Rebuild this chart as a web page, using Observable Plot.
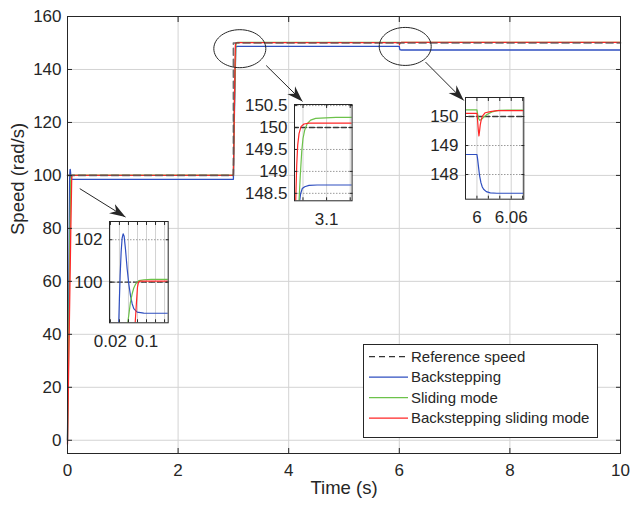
<!DOCTYPE html>
<html>
<head>
<meta charset="utf-8">
<script src="https://cdn.jsdelivr.net/npm/d3@7"></script>
<script src="https://cdn.jsdelivr.net/npm/@observablehq/plot@0.6"></script>
<style>
  body { margin: 0; background: #fff; }
  #chart { position: relative; width: 631px; height: 507px; overflow: hidden; }
  #chart > svg, #chart > div { position: absolute; }
</style>
</head>
<body>
<div id="chart"></div>
<script>
// ---- Speed responses (time in s, speed in rad/s) ----
const timeRef = [0, 3, 3, 10];
const speedRef = [100, 100, 150, 150];

const timeBS = [0, 0.015, 0.03, 0.0385, 0.04, 0.0416, 0.0438, 0.046, 0.0482, 0.0504,
  0.0533, 0.0571, 0.0607, 0.0644, 0.0682, 0.0718, 0.0793, 0.094, 0.12,
  3.0, 3.02, 3.043, 3.045, 3.0485, 3.0536, 3.0627, 3.08,
  6.0, 6.0012, 6.0029, 6.0047, 6.007, 6.0094, 6.0117, 6.0164, 6.0234, 6.035, 10];
const speedBS = [0, 38, 76, 98.08, 99.22, 100.32, 101.42, 102.08, 102.28, 102.17,
  101.58, 100.63, 99.92, 99.37, 98.98, 98.75, 98.58, 98.54, 98.53,
  98.53, 125, 148.33, 148.49, 148.61, 148.65, 148.68, 148.69,
  148.69, 148.53, 148.24, 147.95, 147.72, 147.57, 147.49, 147.41, 147.37, 147.355, 147.355];

const timeSM = [0, 0.02, 0.04, 0.0585, 0.0616, 0.0644, 0.0682, 0.0718, 0.0762, 0.0829,
  0.094, 0.11,
  3.0, 3.02, 3.0416, 3.0443, 3.0473, 3.05, 3.0536, 3.059, 3.0662, 3.0768, 3.098, 3.12,
  6.0, 6.0012, 6.0029, 6.0047, 6.007, 6.0117, 6.0175, 6.0263, 6.038, 6.053, 10];
const speedSM = [0, 35, 70, 98.08, 98.58, 99.06, 99.45, 99.72, 99.92, 100.07,
  100.11, 100.13,
  100.13, 128, 148.33, 148.91, 149.45, 149.75, 149.94, 150.09, 150.17, 150.21, 150.22, 150.23,
  150.23, 150.08, 149.93, 149.87, 149.89, 149.97, 150.07, 150.16, 150.21, 150.22, 150.22];

const timeBSM = [0, 0.03, 0.06, 0.0749, 0.0778, 0.08, 0.0822, 0.0867, 0.1,
  3.0, 3.02, 3.0346, 3.0367, 3.0388, 3.0416, 3.0458, 3.0521, 3.0627,
  6.0, 6.0012, 6.0023, 6.0035, 6.0047, 6.0058, 6.0076, 6.0099, 6.0146, 6.0234, 6.035, 10];
const speedBSM = [-1.5, 40, 80, 98.08, 99.06, 99.76, 100.0, 100.05, 100.05,
  100.05, 130, 148.33, 149.14, 149.6, 149.86, 150.02, 150.08, 150.1,
  150.11, 149.85, 149.56, 149.33, 149.51, 149.71, 149.89, 150.02, 150.13, 150.17, 150.2, 150.2];

const seriesNames = ["Reference speed", "Backstepping", "Sliding mode", "Backstepping sliding mode"];

// ---- Main axes ticks ----
const xTicksMain = [0, 2, 4, 6, 8, 10];
const yTicksMain = [0, 20, 40, 60, 80, 100, 120, 140, 160];

// ---- Zoomed views: domains, grid ticks and labelled ticks ----
const zoomXDomains = [[0.018, 0.148], [3.032, 3.154], [5.98, 6.082]];
const zoomYDomains = [[98.08, 102.86], [148.33, 150.525], [147.15, 150.655]];
const zoomXGrid = [[0.02, 0.04, 0.06, 0.08, 0.1, 0.12, 0.14], [3.05, 3.1, 3.15], [6, 6.02, 6.04, 6.06, 6.08]];
const zoomXLabels = [[0.02, 0.1], [3.1], [6, 6.06]];
const zoomYTicks = [[100, 102], [148.5, 149, 149.5, 150, 150.5], [148, 149, 150]];

// ---- Annotations (data coordinates) ----
const circleCenters = [[3.116, 147.85], [6.107, 148.7]];
const arrowStarts = [[0.222, 95.0], [3.593, 141.5], [6.474, 142.8]];
const arrowEnds = [[1.049, 84.25], [4.25, 127.95], [7.166, 128.3]];

// ---- Styling ----
const font = '"Liberation Sans", Arial, Helvetica, sans-serif';
const ink = "#262626";
const colors = { ref: "#555555", bs: "#2f4fc0", sm: "#6cc24a", bsm: "#ff2626" };

const rows = (t, v) => t.map((d, i) => ({ t: d, v: v[i] }));
const refRows = rows(timeRef, speedRef);
const bsRows = rows(timeBS, speedBS);
const smRows = rows(timeSM, speedSM);
const bsmRows = rows(timeBSM, speedBSM);

const chart = document.getElementById("chart");

// Filled MATLAB-style arrowhead marker
function arrowHead(color, context) {
  const ns = "http://www.w3.org/2000/svg";
  const m = context.document.createElementNS(ns, "marker");
  m.setAttribute("viewBox", "-16 -6 17 12");
  m.setAttribute("markerWidth", 17);
  m.setAttribute("markerHeight", 12);
  m.setAttribute("markerUnits", "userSpaceOnUse");
  m.setAttribute("orient", "auto");
  m.setAttribute("refX", 0);
  m.setAttribute("refY", 0);
  m.setAttribute("fill", color);
  m.setAttribute("stroke", "none");
  const p = context.document.createElementNS(ns, "path");
  p.setAttribute("d", "M0,0L-16,-5.5L-11,0L-16,5.5Z");
  m.appendChild(p);
  return m;
}

// Ellipse outline used to highlight a region
const ellipseSymbol = {
  draw(ctx) {
    const rx = 26, ry = 19, k = 0.5523;
    ctx.moveTo(rx, 0);
    ctx.bezierCurveTo(rx, ry * k, rx * k, ry, 0, ry);
    ctx.bezierCurveTo(-rx * k, ry, -rx, ry * k, -rx, 0);
    ctx.bezierCurveTo(-rx, -ry * k, -rx * k, -ry, 0, -ry);
    ctx.bezierCurveTo(rx * k, -ry, rx, -ry * k, rx, 0);
    ctx.closePath();
  }
};

const arrows = arrowStarts.map((s, i) => ({ x1: s[0], y1: s[1], x2: arrowEnds[i][0], y2: arrowEnds[i][1] }));
const circles = circleCenters.map(([x, y]) => ({ x, y }));

const main = Plot.plot({
  width: 631,
  height: 507,
  marginLeft: 67,
  marginRight: 11,
  marginTop: 16,
  marginBottom: 54,
  x: { domain: [0, 10] },
  y: { domain: [-5, 160] },
  style: { fontFamily: font, fontSize: "17px", color: ink, background: "transparent", overflow: "visible" },
  marks: [
    Plot.gridX(xTicksMain, { stroke: "#d3d3d3", strokeOpacity: 1 }),
    Plot.gridY(yTicksMain, { stroke: "#d3d3d3", strokeOpacity: 1 }),
    Plot.line(bsRows, { x: "t", y: "v", stroke: colors.bs, strokeWidth: 1.3 }),
    Plot.line(smRows, { x: "t", y: "v", stroke: colors.sm, strokeWidth: 1.3 }),
    Plot.line(bsmRows, { x: "t", y: "v", stroke: colors.bsm, strokeWidth: 1.3 }),
    Plot.line(refRows, { x: "t", y: "v", stroke: colors.ref, strokeWidth: 1.6, strokeDasharray: "7,4", strokeOpacity: 0.85 }),
    Plot.dot(circles, { x: "x", y: "y", symbol: ellipseSymbol, stroke: ink, fill: "none", strokeWidth: 1 }),
    Plot.link(arrows, { x1: "x1", y1: "y1", x2: "x2", y2: "y2", stroke: ink, strokeWidth: 1, markerEnd: arrowHead }),
    Plot.frame({ stroke: ink, strokeWidth: 1 }),
    Plot.axisX(xTicksMain, { anchor: "bottom", tickSize: -5, tickPadding: 15, label: null }),
    Plot.axisX(xTicksMain, { anchor: "top", tickSize: -5, tickFormat: () => "", label: null }),
    Plot.axisY(yTicksMain, { anchor: "left", tickSize: -5, tickPadding: 11, label: null }),
    Plot.axisY(yTicksMain, { anchor: "right", tickSize: -5, tickFormat: () => "", label: null }),
    Plot.text(["Time (s)"], { frameAnchor: "bottom", dy: 40, fontSize: 18.5, fill: ink }),
    Plot.text(["Speed (rad/s)"], { frameAnchor: "left", dx: -49, rotate: -90, fontSize: 18.5, fill: ink })
  ]
});
main.style.left = "0px";
main.style.top = "0px";
chart.appendChild(main);

// ---- Zoomed views drawn on top of the main axes ----
const zoomFrames = [
  { left: 109, top: 221, width: 58.7, height: 101.3 },
  { left: 293.7, top: 104, width: 57.6, height: 96.3 },
  { left: 465, top: 97, width: 58.3, height: 101.7 }
];
const ML = 60, MT = 4, MR = 4, MB = 34;

zoomFrames.forEach((f, i) => {
  const labels = new Set(zoomXLabels[i]);
  const p = Plot.plot({
    width: ML + f.width + MR,
    height: MT + f.height + MB,
    marginLeft: ML,
    marginTop: MT,
    marginRight: MR,
    marginBottom: MB,
    x: { domain: zoomXDomains[i] },
    y: { domain: zoomYDomains[i] },
    style: { fontFamily: font, fontSize: "17px", color: ink, background: "transparent", overflow: "visible" },
    marks: [
      Plot.frame({ fill: "white", stroke: "none" }),
      Plot.gridX(zoomXGrid[i], { stroke: "#d2d2d2", strokeOpacity: 1 }),
      Plot.gridY(zoomYTicks[i], { stroke: "#9a9a9a", strokeOpacity: 1, strokeDasharray: "1.5,1.5" }),
      Plot.line(refRows, { x: "t", y: "v", stroke: "#3a3a3a", strokeWidth: 1.4, strokeDasharray: "5,3", clip: true }),
      Plot.line(bsRows, { x: "t", y: "v", stroke: colors.bs, strokeWidth: 1.2, clip: true }),
      Plot.line(smRows, { x: "t", y: "v", stroke: colors.sm, strokeWidth: 1.2, clip: true }),
      Plot.line(bsmRows, { x: "t", y: "v", stroke: colors.bsm, strokeWidth: 1.2, clip: true }),
      Plot.frame({ stroke: ink, strokeWidth: 1 }),
      Plot.axisX(zoomXGrid[i], { anchor: "bottom", tickSize: -3, tickPadding: 15, label: null,
        tickFormat: d => labels.has(d) ? String(d) : "" }),
      Plot.axisX(zoomXGrid[i], { anchor: "top", tickSize: -3, tickFormat: () => "", label: null }),
      Plot.axisY(zoomYTicks[i], { anchor: "left", tickSize: -3, tickPadding: 10, label: null, tickFormat: d => String(d) }),
      Plot.axisY(zoomYTicks[i], { anchor: "right", tickSize: -3, tickFormat: () => "", label: null })
    ]
  });
  p.style.left = (f.left - ML) + "px";
  p.style.top = (f.top - MT) + "px";
  chart.appendChild(p);
});

// ---- Legend box ----
const lg = { left: 363, top: 344, width: 235, height: 94, row0: 12.7, step: 20.5 };
const legendStyles = [
  { stroke: "#333333", dash: "6,4" },
  { stroke: colors.bs, dash: null },
  { stroke: colors.sm, dash: null },
  { stroke: colors.bsm, dash: null }
];
const legend = d3.create("svg")
  .attr("width", lg.width + 2)
  .attr("height", lg.height + 2)
  .style("left", (lg.left - 1) + "px")
  .style("top", (lg.top - 1) + "px")
  .style("position", "absolute");
legend.append("rect")
  .attr("x", 1.5).attr("y", 1.5)
  .attr("width", lg.width - 1).attr("height", lg.height - 1)
  .attr("fill", "white").attr("stroke", ink).attr("stroke-width", 1);
seriesNames.forEach((name, i) => {
  const y = 1 + lg.row0 + i * lg.step;
  legend.append("line")
    .attr("x1", 7).attr("x2", 46).attr("y1", y).attr("y2", y)
    .attr("stroke", legendStyles[i].stroke)
    .attr("stroke-width", 1.2)
    .attr("stroke-dasharray", legendStyles[i].dash);
  legend.append("text")
    .attr("x", 49).attr("y", y).attr("dy", "0.35em")
    .attr("font-family", font).attr("font-size", 15).attr("fill", ink)
    .text(name);
});
chart.appendChild(legend.node());
</script>
</body>
</html>
